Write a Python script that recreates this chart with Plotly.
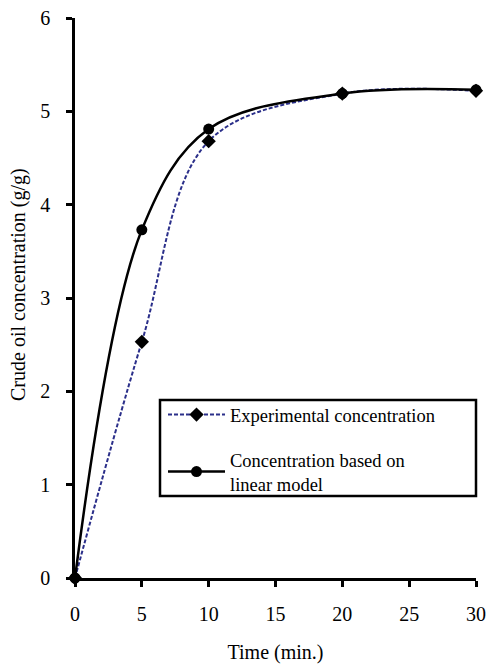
import plotly.graph_objects as go

time_min = [0, 5, 10, 20, 30]
experimental = [0, 2.53, 4.68, 5.19, 5.22]
linear_model = [0, 3.73, 4.81, 5.19, 5.23]

FONT = "Liberation Serif"

fig = go.Figure()
fig.add_trace(go.Scatter(
    x=time_min, y=experimental, mode="lines+markers",
    name="Experimental concentration",
    line=dict(color="#2B2F8A", width=2, dash="4px,2px", shape="spline", smoothing=1),
    marker=dict(symbol="diamond", size=11, color="black"),
    cliponaxis=False, legendgroup="a",
))
fig.add_trace(go.Scatter(
    x=time_min, y=linear_model, mode="lines+markers",
    name="Concentration based on<br>linear model",
    line=dict(color="black", width=2.5, shape="spline", smoothing=1),
    marker=dict(symbol="circle", size=11, color="black"),
    cliponaxis=False, legendgroup="b",
))

fig.add_shape(type="rect", xref="paper", yref="paper",
              x0=(160-75)/401, x1=(476-75)/401,
              y0=(578-496)/560, y1=(578-400)/560,
              line=dict(color="black", width=2.5), fillcolor="rgba(0,0,0,0)")

fig.add_annotation(text="Crude oil concentration (g/g)", xref="paper", yref="paper",
                   x=(18-75)/401, y=(578-285)/560, xanchor="center", yanchor="middle",
                   textangle=-90, showarrow=False, font=dict(family=FONT, size=20))

fig.update_layout(
    width=486, height=664, autosize=False,
    margin=dict(l=75, r=10, t=18, b=86),
    paper_bgcolor="white", plot_bgcolor="white",
    font=dict(family=FONT, size=20, color="black"),
    showlegend=True,
    legend=dict(x=(163-75)/401, y=(578-396)/560, xanchor="left", yanchor="top",
                bgcolor="rgba(0,0,0,0)", borderwidth=0, itemwidth=57,
                font=dict(family=FONT, size=18.5), tracegroupgap=18),
    xaxis=dict(range=[0, 30], tickvals=[0, 5, 10, 15, 20, 25, 30],
               showline=True, linecolor="black", linewidth=2.5,
               ticks="outside", ticklen=6, tickwidth=2.5, tickcolor="black",
               showgrid=False, zeroline=False, automargin=False, ticklabelstandoff=10,
               title=dict(text="Time (min.)", font=dict(family=FONT, size=20), standoff=24),
               tickfont=dict(family=FONT, size=20)),
    yaxis=dict(range=[0, 6], tickvals=[0, 1, 2, 3, 4, 5, 6],
               showline=True, linecolor="black", linewidth=2.5,
               ticks="outside", ticklen=6, tickwidth=2.5, tickcolor="black",
               showgrid=False, zeroline=False, automargin=False, ticklabelstandoff=12,
               tickfont=dict(family=FONT, size=20)),
)

fig.write_html("out.html")
